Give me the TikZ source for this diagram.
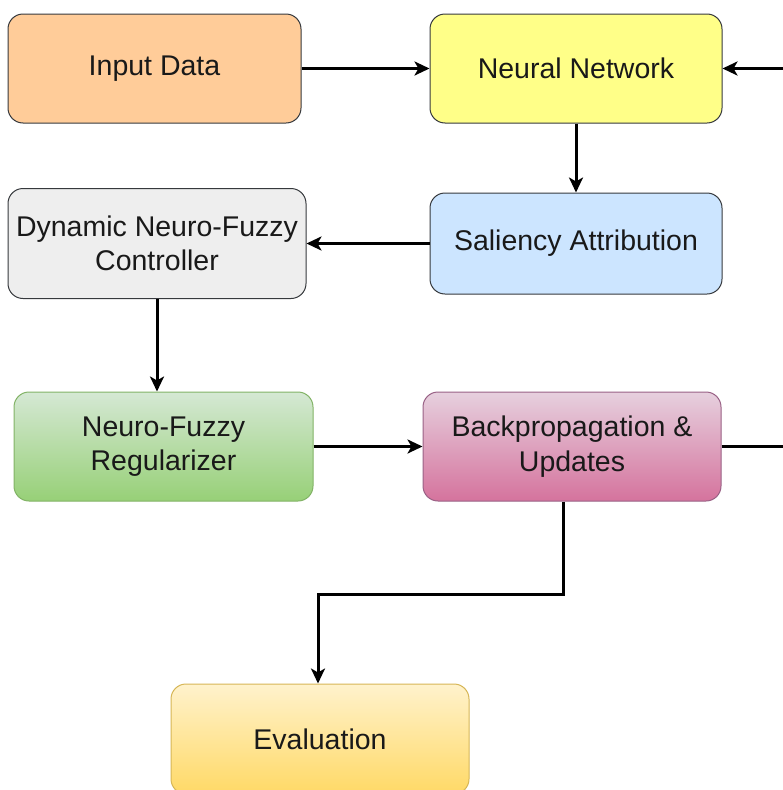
\documentclass[tikz,border=0pt]{standalone}
\usepackage{fontspec}
\setmainfont{Liberation Sans}
\usetikzlibrary{arrows.meta,shadings}

\definecolor{edgegray}{HTML}{36393D}
\definecolor{inputfill}{HTML}{FFCC99}
\definecolor{nnfill}{HTML}{FFFF88}
\definecolor{salfill}{HTML}{CCE5FF}
\definecolor{ctrlfill}{HTML}{EEEEEE}
\definecolor{greentop}{HTML}{D5E8D4}
\definecolor{greenbot}{HTML}{97D077}
\definecolor{greenline}{HTML}{82B366}
\definecolor{pinktop}{HTML}{E6D0DE}
\definecolor{pinkbot}{HTML}{D5739D}
\definecolor{pinkline}{HTML}{996185}
\definecolor{goldtop}{HTML}{FFF2CC}
\definecolor{goldbot}{HTML}{FFD966}
\definecolor{goldline}{HTML}{D6B656}

\tikzset{
  block/.style={draw=edgegray, line width=1pt, rounded corners=15pt,
    align=center, inner sep=0pt,
    font=\fontsize{28.5}{34.5}\selectfont, text=black!90},
  flow/.style={line width=3pt, draw=black,
    -{Stealth[length=15pt,width=14pt,inset=4pt]}},
  stub/.style={line width=3pt, draw=black}
}

\begin{document}
\begin{tikzpicture}[x=1pt,y=-1pt]
\useasboundingbox (0,0) rectangle (783,790);

\node[block, fill=inputfill, minimum width=293pt, minimum height=109pt]
  (input) at (154.5,68.5) {Input Data};
\node[block, fill=nnfill, minimum width=292pt, minimum height=109pt]
  (nn) at (576,68.5) {Neural Network};
\node[block, fill=salfill, minimum width=292pt, minimum height=101pt]
  (sal) at (576,243.5) {Saliency Attribution};
\node[block, fill=ctrlfill, minimum width=298pt, minimum height=110pt]
  (ctrl) at (157,243.5) {Dynamic Neuro-Fuzzy\\Controller};
\node[block, draw=greenline, top color=greentop, bottom color=greenbot,
  minimum width=299pt, minimum height=109pt]
  (reg) at (163.5,446.5) {Neuro-Fuzzy\\Regularizer};
\node[block, draw=pinkline, top color=pinktop, bottom color=pinkbot,
  minimum width=298pt, minimum height=109pt]
  (bp) at (572,446.5) {Backpropagation \&\\Updates};
\node[block, draw=goldline, top color=goldtop, bottom color=goldbot,
  minimum width=298pt, minimum height=110pt]
  (eval) at (320,739) {Evaluation};

% loop ends leaving the frame on the right
\coordinate (loopin) at (790,68.5);
\coordinate (loopout) at (790,446.5);
\coordinate (bend) at (318,594);

\draw[flow] (input) -- (nn);
\draw[flow] (nn) -- (sal);
\draw[flow] (sal.west) -- (ctrl.east |- sal.west);
\draw[flow] (ctrl.south) -- (reg.north -| ctrl.south);
\draw[flow] (reg) -- (bp);
\draw[flow] ([xshift=-9pt]bp.south) |- (bend) -- (eval.north -| bend);
\draw[stub] (bp.east) -- (loopout);
\draw[flow] (loopin) -- (nn.east);
\end{tikzpicture}
\end{document}
